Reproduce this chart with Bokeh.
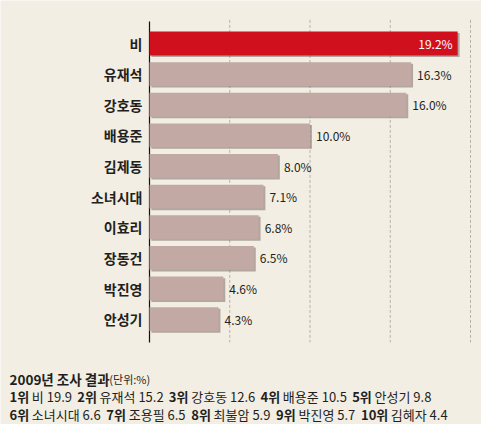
from bokeh.plotting import figure
from bokeh.models import ColumnDataSource, Range1d, Label
from bokeh.core.properties import value
from bokeh.embed import file_html
from bokeh.resources import INLINE

# ---- data ----
names = ["비", "유재석", "강호동", "배용준", "김제동", "소녀시대", "이효리", "장동건", "박진영", "안성기"]
values = [19.2, 16.3, 16.0, 10.0, 8.0, 7.1, 6.8, 6.5, 4.6, 4.3]
grid_ticks = [5, 10, 15, 20]

title_2009 = "2009년 조사 결과"
unit_2009 = "(단위:%)"
ranks_2009 = ["1위", "2위", "3위", "4위", "5위", "6위", "7위", "8위", "9위", "10위"]
names_2009 = ["비", "유재석", "강호동", "배용준", "안성기", "소녀시대", "조용필", "최불암", "박진영", "김혜자"]
values_2009 = ["19.9", "15.2", "12.6", "10.5", "9.8", "6.6", "6.5", "5.9", "5.7", "4.4"]

# ---- style / layout ----
W, H = 481, 424
BG = "#f2eee4"
BAR = "#c2a9a3"
RED = "#d0111d"
SHADOW = "#6f605b"
TXT = "#231f20"
FONT = "Noto Sans CJK KR"
PX = 16.05          # pixels per percent
AX_X = 149          # pixel position of the value axis
PITCH = 30.63       # pixels per bar row
FIRST = 43          # pixel centre of the first row
PAD_TOP, PAD_BOT = 0.72, 0.76
BAR_H = 0.78

n = len(names)
idx = list(range(n))
top_idx = 0
src = ColumnDataSource(dict(
    y=idx,
    names=names,
    values=values,
    sh_y=[i + 0.05 for i in idx],
    sh_left=[0.12] * n,
    sh_right=[v + 0.12 for v in values],
    colors=[RED if i == top_idx else BAR for i in idx],
    labels=[f"{v:.1f}%" for v in values],
    align=["right" if i == top_idx else "left" for i in idx],
    xoff=[-5 if i == top_idx else 6 for i in idx],
    tcolor=["white" if i == top_idx else TXT for i in idx],
))

p = figure(width=W, height=H,
           x_range=Range1d(-AX_X / PX, (W - AX_X) / PX),
           y_range=Range1d((H - FIRST) / PITCH, -FIRST / PITCH),
           output_backend="svg", toolbar_location=None, min_border=0,
           background_fill_color=BG, border_fill_color=BG, outline_line_color=None)
p.axis.visible = False
p.grid.visible = False

# grid lines and value axis, spanning the rows only
gsrc = ColumnDataSource(dict(x=grid_ticks, y0=[-PAD_TOP - 0.05] * len(grid_ticks),
                             y1=[n - 1 + PAD_BOT] * len(grid_ticks)))
p.segment(x0="x", y0="y0", x1="x", y1="y1", source=gsrc, line_color="#b7b2a9",
          line_dash="3 2", line_width=1)
p.segment(x0=0, y0=-PAD_TOP, x1=0, y1=n - 1 + PAD_BOT, line_color="#111111", line_width=1.2)

p.hbar(y="sh_y", left="sh_left", right="sh_right", height=BAR_H, source=src,
       color=SHADOW, alpha=0.5, line_color=None)
p.hbar(y="y", left=0, right="values", height=BAR_H, source=src,
       fill_color="colors", line_color=None)
p.text(x="values", y="y", text="labels", x_offset="xoff", text_align="align",
       text_baseline="middle", text_color="tcolor", source=src,
       text_font=value(FONT), text_font_size="12px")
p.text(x=0, y="y", text="names", x_offset=-7, text_align="right", text_baseline="middle",
       text_color=TXT, source=src, text_font=value(FONT), text_font_style="bold",
       text_font_size="14px")

# ---- 2009 text block ----
def text_width(s, fs, bold=False):
    w = 0.0
    for ch in s:
        o = ord(ch)
        if 0xAC00 <= o <= 0xD7A3:
            w += 0.92
        elif ch.isdigit():
            w += 0.57 if bold else 0.52
        elif ch == ".":
            w += 0.25
        elif ch == " ":
            w += 0.22
        elif ch == "%":
            w += 0.85
        elif ch in "():":
            w += 0.3
        else:
            w += 0.55
    return w * fs

def add_text(x, y, t, size, bold=False):
    p.add_layout(Label(x=x, y=y, x_units="screen", y_units="screen", text=t,
                       text_font=FONT, text_font_size=f"{size}px",
                       text_font_style="bold" if bold else "normal",
                       text_color=TXT, text_baseline="alphabetic", text_align="left"))

x0 = 9
add_text(x0, 45.5, title_2009, 13.5, True)
add_text(x0 + text_width(title_2009, 13.5, True) + 1, 45.5, unit_2009, 11)

fs = 13
line_y = [28, 10]
for line in range(2):
    x = x0
    for i in range(line * 5, line * 5 + 5):
        add_text(x, line_y[line], ranks_2009[i], fs, True)
        x += text_width(ranks_2009[i], fs, True) + 3
        s = f"{names_2009[i]} {values_2009[i]}"
        add_text(x, line_y[line], s, fs)
        x += text_width(s, fs) + 7

open("out.html", "w").write(file_html(p, INLINE))
